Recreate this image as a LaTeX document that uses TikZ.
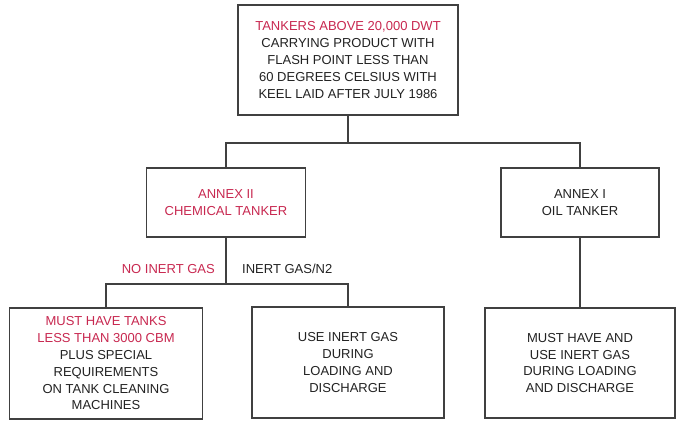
\documentclass[tikz,border=0pt]{standalone}
\usepackage{fontspec}
\setmainfont{Liberation Sans}
\usepackage{xcolor}
\usetikzlibrary{positioning}
\definecolor{annexred}{RGB}{200,40,80}
\definecolor{inkgray}{RGB}{34,34,34}
\definecolor{linegray}{RGB}{64,64,64}

\begin{document}
\begin{tikzpicture}[x=1pt, y=-1pt,
  font=\fontsize{13}{16.8}\selectfont,
  rule/.style={rectangle, draw=linegray, line width=1.4pt, fill=white,
    text=inkgray, align=center, inner sep=2pt},
  %
  branch/.style={text=annexred, inner sep=0pt},
  %
  link/.style={draw=linegray, line width=1.4pt}
  ]

  \useasboundingbox (0,0) rectangle (679,423);

  % top condition
  \node [rule, minimum width=220pt, minimum height=110pt] (tankers) at (348,60)
    {\textcolor{annexred}{TANKERS ABOVE 20,000 DWT}\\
     CARRYING PRODUCT WITH\\ FLASH POINT LESS THAN\\
     60 DEGREES CELSIUS WITH\\ KEEL LAID AFTER JULY 1986};

  % the two annexes
  \node [rule, minimum width=159pt, minimum height=69pt] (chemical) at (226,202.5)
    {\textcolor{annexred}{ANNEX II}\\ \textcolor{annexred}{CHEMICAL TANKER}};
  \node [rule, minimum width=158pt, minimum height=69pt] (oil) at (580,202.5)
    {ANNEX I\\ OIL TANKER};

  % requirements
  \node [rule, minimum width=193pt, minimum height=111pt] (noinert) at (106,363.5)
    {\textcolor{annexred}{MUST HAVE TANKS}\\ \textcolor{annexred}{LESS THAN 3000 CBM}\\
     PLUS SPECIAL\\ REQUIREMENTS\\ ON TANK CLEANING\\ MACHINES};
  \node [rule, minimum width=192pt, minimum height=111pt] (inertuse) at (348,362.5)
    {USE INERT GAS\\ DURING\\ LOADING AND\\ DISCHARGE};
  \node [rule, minimum width=190pt, minimum height=110pt] (oilinert) at (580,363)
    {MUST HAVE AND\\ USE INERT GAS\\ DURING LOADING\\ AND DISCHARGE};

  % branch labels
  \node [branch, anchor=east] (nogas) at (215,269) {NO INERT GAS};
  \node [branch, anchor=west, text=inkgray] (withgas) at (242,269) {INERT GAS/N2};

  \coordinate (split) at (348,143);
  \coordinate (fork) at (226,284);

  \draw [link] (tankers.south) -- (split);
  \draw [link] (split) -| (chemical.north);
  \draw [link] (split) -| (oil.north);
  \draw [link] (chemical.south) -- (fork);
  \draw [link] (fork) -| (noinert.north);
  \draw [link] (fork) -| (inertuse.north);
  \draw [link] (oil.south) -- (oilinert.north);

\end{tikzpicture}
\end{document}
